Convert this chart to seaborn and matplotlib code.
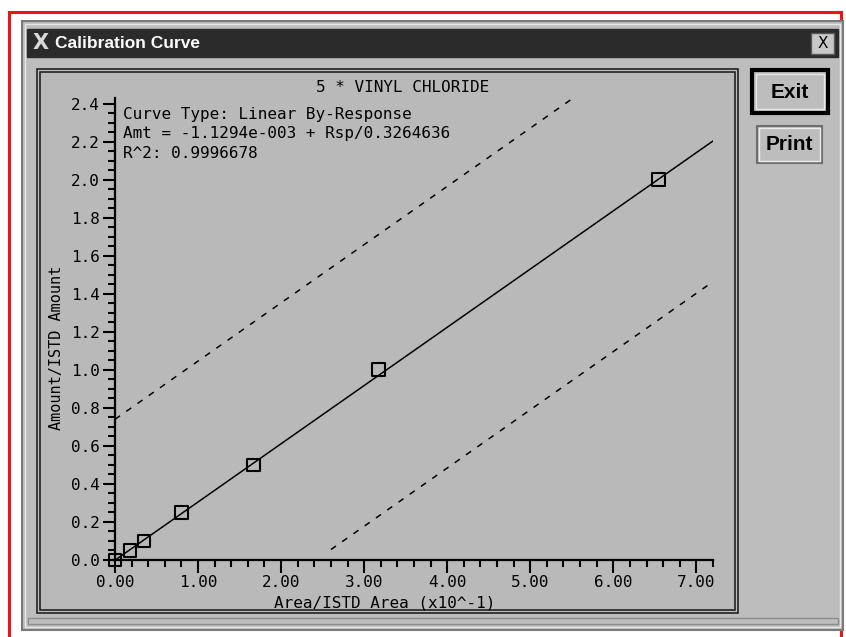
import matplotlib
matplotlib.use("Agg")
import matplotlib.pyplot as plt
import seaborn as sns
from matplotlib.patches import Rectangle
from matplotlib.ticker import MultipleLocator, FormatStrFormatter

sns.set_theme(style="white")
plt.rcParams["font.family"] = ["DejaVu Sans Mono", "DejaVu Sans"]

# calibration points
resp_ratio = [0.0, 0.18, 0.35, 0.80, 1.67, 3.17, 6.54]
amount_ratio = [0.0, 0.05, 0.10, 0.25, 0.50, 1.00, 2.00]

# fitted line and the two dashed limit lines (end points)
fit_x = [0.0, 7.2]
fit_y = [-0.0011, 2.204]
upper_x = [0.0, 5.55]
upper_y = [0.74, 2.44]
lower_x = [2.6, 7.2]
lower_y = [0.055, 1.464]

compound = "5 * VINYL CHLORIDE"
infos = ["Curve Type: Linear By-Response",
         "Amt = -1.1294e-003 + Rsp/0.3264636",
         "R^2: 0.9996678"]

W, H = 846, 637
fig = plt.figure(figsize=(W / 100, H / 100), dpi=100)
fig.patch.set_facecolor("white")

# fond : la fenetre X en coordonnees pixels
bg = fig.add_axes([0, 0, 1, 1], zorder=0)
bg.set_xlim(0, W)
bg.set_ylim(H, 0)
bg.axis("off")

def rect(x0, y0, x1, y1, **kw):
    bg.add_patch(Rectangle((x0, y0), x1 - x0, y1 - y0, **kw))

rect(9, 12, 841, 645, fc="white", ec="#e8161b", lw=2.2)
rect(22, 21, 843, 630, fc="#bdbdbd", ec="#7a7a7a", lw=1.5)
rect(25, 24, 840, 627, fc="none", ec="#e6e6e6", lw=1)
rect(27, 29, 838, 57, fc="#2b2b2b", ec="#2b2b2b", lw=1)
bg.text(33, 43, "X", color="#d8d8d8", fontsize=15, family="DejaVu Sans",
        weight="bold", va="center", ha="left")
bg.text(55, 43, "Calibration Curve", color="white", fontsize=12.5,
        family="Liberation Sans", weight="bold", va="center", ha="left")
rect(811, 33, 834, 54, fc="#c8c8c8", ec="#5a5a5a", lw=1)
bg.text(822.5, 44, "X", color="black", fontsize=11, family="DejaVu Sans",
        va="center", ha="center")

# panel du graphe
rect(37, 69, 738, 613, fc="none", ec="#222222", lw=1.2)
rect(40, 72, 735, 610, fc="#b9b9b9", ec="#222222", lw=1.2)
rect(28, 618, 838, 624, fc="none", ec="#8c8c8c", lw=1)

# boutons
rect(752, 70, 828, 113, fc="#bdbdbd", ec="black", lw=3)
rect(756, 74, 824, 109, fc="none", ec="#e8e8e8", lw=1)
bg.text(790, 92, "Exit", fontsize=15, family="Liberation Sans", weight="bold",
        ha="center", va="center", color="black")
rect(757, 126, 822, 163, fc="#bdbdbd", ec="#6e6e6e", lw=1.5)
rect(759, 128, 820, 161, fc="none", ec="#ececec", lw=1)
bg.text(789.5, 144, "Print", fontsize=15, family="Liberation Sans", weight="bold",
        ha="center", va="center", color="black")

# textes du graphe
mono = 11.5
bg.text(403, 87, compound, fontsize=mono, ha="center", va="center", color="black")
for i, t in enumerate(infos):
    bg.text(123, 114 + i * 19.5, t, fontsize=mono, ha="left", va="center", color="black")
bg.text(57, 348, "Amount/ISTD Amount", fontsize=11, rotation=90,
        ha="center", va="center", color="black")
bg.text(385, 603, "Area/ISTD Area (x10^-1)", fontsize=mono,
        ha="center", va="center", color="black")

# axes de donnees
x0px, x1px = 110, 713
y0px, y1px = 560, 98
ax = fig.add_axes([x0px / W, (H - y0px) / H, (x1px - x0px) / W, (y0px - y1px) / H], zorder=1)
ax.set_facecolor("none")
ax.set_xlim(-0.06, 7.2)
ax.set_ylim(0, 2.43)

sns.lineplot(x=fit_x, y=fit_y, ax=ax, color="black", linewidth=1.1)
sns.lineplot(x=upper_x, y=upper_y, ax=ax, color="black", linewidth=1.1,
             linestyle=(0, (4, 5)))
sns.lineplot(x=lower_x, y=lower_y, ax=ax, color="black", linewidth=1.1,
             linestyle=(0, (4, 5)))
sns.scatterplot(x=resp_ratio, y=amount_ratio, ax=ax, marker="s", s=85,
                facecolor="none", edgecolor="black", linewidth=1.5,
                clip_on=False, zorder=5)

for s in ["top", "right"]:
    ax.spines[s].set_visible(False)
ax.spines["left"].set_position(("data", 0))
for s in ["left", "bottom"]:
    ax.spines[s].set_color("black")
    ax.spines[s].set_linewidth(1.6)

ax.xaxis.set_major_locator(MultipleLocator(1))
ax.xaxis.set_minor_locator(MultipleLocator(0.2))
ax.yaxis.set_major_locator(MultipleLocator(0.2))
ax.yaxis.set_minor_locator(MultipleLocator(0.05))
ax.xaxis.set_major_formatter(FormatStrFormatter("%.2f"))
ax.yaxis.set_major_formatter(FormatStrFormatter("%.1f"))
ax.tick_params(which="both", direction="out", color="black", width=1.5,
               bottom=True, left=True, top=False, right=False,
               labelsize=mono, labelcolor="black")
ax.tick_params(axis="x", which="major", length=9, pad=2)
ax.tick_params(axis="x", which="minor", length=5)
ax.tick_params(axis="y", which="major", length=9, pad=2)
ax.tick_params(axis="y", which="minor", length=5)
ax.set_xlabel("")
ax.set_ylabel("")

fig.savefig("out.png", dpi=100)
